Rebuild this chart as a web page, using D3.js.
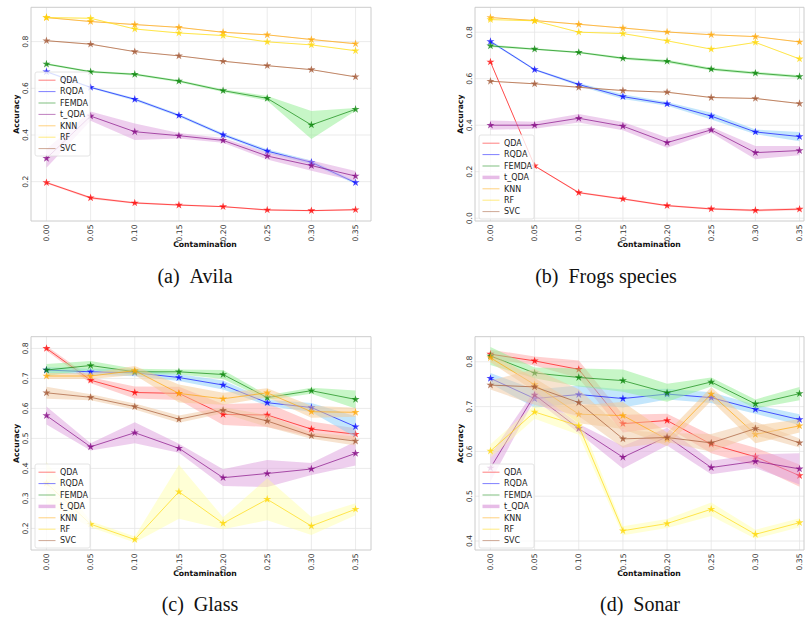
<!DOCTYPE html>
<html>
<head>
<meta charset="utf-8">
<script src="https://cdn.jsdelivr.net/npm/d3@7"></script>
<style>
  body { margin: 0; background: #fff; }
  svg { display: block; }
  text { font-family: 'DejaVu Sans', sans-serif; }
  .caption { font-family: 'Liberation Serif', 'Times New Roman', serif; }
</style>
</head>
<body>
<script>
'use strict'

const contamination = [0.00, 0.05, 0.10, 0.15, 0.20, 0.25, 0.30, 0.35]
const methods = ['QDA', 'RQDA', 'FEMDA', 't_QDA', 'KNN', 'RF', 'SVC']

// means and std, one row per method in the order above
const avilaMeans = [
  [0.196, 0.131, 0.109, 0.100, 0.093, 0.079, 0.076, 0.080],
  [0.671, 0.604, 0.553, 0.484, 0.401, 0.331, 0.283, 0.196],
  [0.704, 0.671, 0.660, 0.631, 0.590, 0.557, 0.443, 0.510],
  [0.300, 0.481, 0.414, 0.397, 0.377, 0.310, 0.269, 0.224],
  [0.903, 0.886, 0.873, 0.861, 0.840, 0.829, 0.809, 0.791],
  [0.903, 0.900, 0.854, 0.837, 0.826, 0.799, 0.786, 0.761],
  [0.804, 0.789, 0.757, 0.739, 0.716, 0.697, 0.680, 0.649]
]
const avilaStds = [
  [0.004, 0.005, 0.004, 0.003, 0.003, 0.003, 0.003, 0.003],
  [0.004, 0.004, 0.006, 0.006, 0.006, 0.008, 0.008, 0.006],
  [0.004, 0.004, 0.005, 0.005, 0.006, 0.010, 0.060, 0.006],
  [0.040, 0.020, 0.035, 0.012, 0.010, 0.015, 0.022, 0.022],
  [0.002, 0.002, 0.002, 0.002, 0.002, 0.002, 0.002, 0.002],
  [0.002, 0.002, 0.002, 0.002, 0.002, 0.002, 0.002, 0.002],
  [0.002, 0.002, 0.002, 0.002, 0.002, 0.002, 0.002, 0.002]
]

const frogsMeans = [
  [0.672, 0.225, 0.110, 0.083, 0.054, 0.040, 0.034, 0.039],
  [0.760, 0.639, 0.575, 0.523, 0.492, 0.439, 0.371, 0.351],
  [0.741, 0.727, 0.713, 0.688, 0.675, 0.641, 0.624, 0.609],
  [0.400, 0.400, 0.430, 0.396, 0.325, 0.380, 0.282, 0.291],
  [0.863, 0.850, 0.834, 0.818, 0.801, 0.789, 0.781, 0.758],
  [0.854, 0.849, 0.800, 0.794, 0.763, 0.727, 0.756, 0.685],
  [0.589, 0.578, 0.563, 0.549, 0.542, 0.519, 0.515, 0.493]
]
const frogsStds = [
  [0.003, 0.003, 0.004, 0.004, 0.004, 0.004, 0.005, 0.005],
  [0.005, 0.004, 0.006, 0.010, 0.008, 0.015, 0.010, 0.020],
  [0.005, 0.004, 0.004, 0.005, 0.006, 0.006, 0.006, 0.006],
  [0.020, 0.015, 0.018, 0.018, 0.022, 0.012, 0.028, 0.020],
  [0.002, 0.002, 0.002, 0.002, 0.002, 0.002, 0.002, 0.002],
  [0.002, 0.002, 0.002, 0.002, 0.002, 0.002, 0.002, 0.002],
  [0.002, 0.002, 0.002, 0.002, 0.002, 0.002, 0.002, 0.002]
]

const glassMeans = [
  [0.800, 0.694, 0.653, 0.650, 0.580, 0.578, 0.531, 0.514],
  [0.728, 0.722, 0.719, 0.703, 0.678, 0.619, 0.603, 0.539],
  [0.728, 0.743, 0.722, 0.722, 0.713, 0.636, 0.659, 0.630],
  [0.576, 0.472, 0.519, 0.467, 0.369, 0.383, 0.398, 0.450],
  [0.708, 0.708, 0.726, 0.650, 0.632, 0.652, 0.589, 0.587],
  [0.351, 0.214, 0.163, 0.322, 0.217, 0.297, 0.208, 0.264],
  [0.652, 0.637, 0.606, 0.564, 0.594, 0.558, 0.509, 0.491]
]
const glassStds = [
  [0.008, 0.010, 0.020, 0.022, 0.035, 0.040, 0.025, 0.020],
  [0.010, 0.010, 0.012, 0.012, 0.015, 0.010, 0.015, 0.035],
  [0.020, 0.015, 0.010, 0.008, 0.015, 0.008, 0.010, 0.030],
  [0.030, 0.012, 0.035, 0.015, 0.028, 0.045, 0.020, 0.040],
  [0.010, 0.010, 0.015, 0.030, 0.020, 0.015, 0.020, 0.015],
  [0.070, 0.010, 0.010, 0.090, 0.020, 0.070, 0.030, 0.020],
  [0.020, 0.010, 0.010, 0.012, 0.010, 0.020, 0.010, 0.015]
]

const sonarMeans = [
  [0.817, 0.802, 0.783, 0.662, 0.669, 0.616, 0.588, 0.546],
  [0.763, 0.718, 0.727, 0.718, 0.728, 0.720, 0.694, 0.671],
  [0.813, 0.775, 0.765, 0.758, 0.731, 0.755, 0.706, 0.729],
  [0.563, 0.726, 0.651, 0.587, 0.633, 0.564, 0.578, 0.561],
  [0.809, 0.749, 0.683, 0.680, 0.627, 0.728, 0.638, 0.657],
  [0.601, 0.688, 0.657, 0.423, 0.439, 0.471, 0.415, 0.441],
  [0.748, 0.744, 0.709, 0.628, 0.631, 0.619, 0.651, 0.619]
]
const sonarStds = [
  [0.010, 0.010, 0.020, 0.020, 0.015, 0.020, 0.020, 0.025],
  [0.012, 0.020, 0.020, 0.020, 0.012, 0.012, 0.010, 0.012],
  [0.020, 0.012, 0.020, 0.025, 0.020, 0.010, 0.010, 0.015],
  [0.030, 0.010, 0.010, 0.025, 0.020, 0.015, 0.015, 0.035],
  [0.010, 0.015, 0.020, 0.030, 0.015, 0.015, 0.020, 0.015],
  [0.015, 0.015, 0.020, 0.010, 0.010, 0.015, 0.010, 0.010],
  [0.010, 0.040, 0.030, 0.020, 0.010, 0.020, 0.015, 0.010]
]

const avilaTicks = [0.2, 0.4, 0.6, 0.8]
const frogsTicks = [0.0, 0.2, 0.4, 0.6, 0.8]
const glassTicks = [0.2, 0.3, 0.4, 0.5, 0.6, 0.7, 0.8]
const sonarTicks = [0.4, 0.5, 0.6, 0.7, 0.8]

const lineColor = ['#ff0000', '#0000ff', '#008000', '#800080', '#ffa500', '#ffd700', '#a0522d']
const bandColor = ['#ff9a9a', '#87cefa', '#90ee90', '#dda0dd', '#f5c890', '#ffff99', '#f0c8a0']
const bandAlpha = [0.45, 0.5, 0.5, 0.5, 0.5, 0.4, 0.5]

const W = 805
const H = 620

const svg = d3.select('body').append('svg')
  .attr('width', W)
  .attr('height', H)

svg.append('rect').attr('width', W).attr('height', H).attr('fill', '#fff')

const panels = [
  { id: 'a', means: avilaMeans, stds: avilaStds, ticks: avilaTicks, yDom: [0.0316, 0.947],
    left: 31, top: 7.3, bottom: 221, legX: 35, legY: 72, thickT: false,
    caption: '(a)\u2002Avila', capX: 195, capY: 283 },
  { id: 'b', means: frogsMeans, stds: frogsStds, ticks: frogsTicks, yDom: [-0.012, 0.907],
    left: 475, top: 7.3, bottom: 221, legX: 479, legY: 135, thickT: true,
    caption: '(b)\u2002Frogs species', capX: 606, capY: 283 },
  { id: 'c', means: glassMeans, stds: glassStds, ticks: glassTicks, yDom: [0.128, 0.839],
    left: 31, top: 336.7, bottom: 550, legX: 35, legY: 464, thickT: true,
    caption: '(c)\u2002Glass', capX: 200, capY: 611 },
  { id: 'd', means: sonarMeans, stds: sonarStds, ticks: sonarTicks, yDom: [0.38, 0.856],
    left: 475, top: 336.7, bottom: 550, legX: 479, legY: 464, thickT: true,
    caption: '(d)\u2002Sonar', capX: 640, capY: 611 }
]

panels.forEach(drawPanel)

function drawPanel (p) {
  const right = p.left + 340
  const frameRight = Math.min(right, W - 1)
  const x = d3.scaleLinear().domain([-0.0175, 0.3675]).range([p.left, right])
  const y = d3.scaleLinear().domain(p.yDom).range([p.bottom, p.top])

  const g = svg.append('g')

  g.append('clipPath').attr('id', 'clip-' + p.id)
    .append('rect')
    .attr('x', p.left).attr('y', p.top)
    .attr('width', frameRight - p.left).attr('height', p.bottom - p.top)

  // grid
  g.append('g').selectAll('line')
    .data(contamination)
    .join('line')
    .attr('x1', d => x(d)).attr('x2', d => x(d))
    .attr('y1', p.top).attr('y2', p.bottom)
    .attr('stroke', '#e6e6e6').attr('stroke-width', 0.8)
  g.append('g').selectAll('line')
    .data(p.ticks)
    .join('line')
    .attr('x1', p.left).attr('x2', frameRight)
    .attr('y1', d => y(d)).attr('y2', d => y(d))
    .attr('stroke', '#e6e6e6').attr('stroke-width', 0.8)

  const plot = g.append('g').attr('clip-path', 'url(#clip-' + p.id + ')')

  const area = d3.area()
    .x((d, i) => x(contamination[i]))
    .y0(d => y(d[0] - d[1]))
    .y1(d => y(d[0] + d[1]))
  const line = d3.line()
    .x((d, i) => x(contamination[i]))
    .y(d => y(d))
  const star = d3.symbol(d3.symbolStar).size(20)

  methods.forEach(function (m, k) {
    const band = p.means[k].map((v, i) => [v, p.stds[k][i]])
    plot.append('path')
      .attr('d', area(band))
      .attr('fill', bandColor[k])
      .attr('fill-opacity', bandAlpha[k])
    plot.append('path')
      .attr('d', line(p.means[k]))
      .attr('fill', 'none')
      .attr('stroke', lineColor[k])
      .attr('stroke-opacity', 0.65)
      .attr('stroke-width', 1)
    plot.append('g').selectAll('path')
      .data(p.means[k])
      .join('path')
      .attr('d', star)
      .attr('transform', (d, i) => 'translate(' + x(contamination[i]) + ',' + y(d) + ')')
      .attr('fill', lineColor[k])
      .attr('fill-opacity', 0.75)
  })

  // frame
  g.append('path')
    .attr('d', 'M' + frameRight + ',' + p.top + 'H' + p.left + 'V' + p.bottom + 'H' + frameRight + 'V' + p.top)
    .attr('fill', 'none')
    .attr('stroke', '#cccccc')
    .attr('stroke-width', 1)

  // tick labels
  g.append('g').selectAll('text')
    .data(contamination)
    .join('text')
    .attr('transform', d => 'translate(' + x(d) + ',' + (p.bottom + 3.5) + ') rotate(-90)')
    .attr('dy', '0.35em')
    .attr('text-anchor', 'end')
    .attr('font-size', 7.6)
    .attr('fill', '#333')
    .text(d => d3.format('.2f')(d))
  g.append('g').selectAll('text')
    .data(p.ticks)
    .join('text')
    .attr('transform', d => 'translate(' + (p.left - 2.8) + ',' + y(d) + ') rotate(-90)')
    .attr('text-anchor', 'middle')
    .attr('font-size', 7.6)
    .attr('fill', '#333')
    .text(d => d3.format('.1f')(d))

  g.append('text')
    .attr('x', (p.left + right) / 2 + 4)
    .attr('y', p.bottom + 26)
    .attr('text-anchor', 'middle')
    .attr('font-size', 7.7)
    .attr('font-weight', 'bold')
    .attr('fill', '#111')
    .text('Contamination')
  g.append('text')
    .attr('transform', 'translate(' + (p.left - 12) + ',' + ((p.top + p.bottom) / 2) + ') rotate(-90)')
    .attr('text-anchor', 'middle')
    .attr('font-size', 7.7)
    .attr('font-weight', 'bold')
    .attr('fill', '#111')
    .text('Accuracy')

  // legend
  const leg = g.append('g').attr('transform', 'translate(' + p.legX + ',' + p.legY + ')')
  leg.append('rect')
    .attr('width', 55).attr('height', 84).attr('rx', 2)
    .attr('fill', '#fff').attr('fill-opacity', 0.8)
    .attr('stroke', '#dddddd').attr('stroke-width', 0.8)
  methods.forEach(function (m, k) {
    const ly = 8.2 + k * 11.4
    const thick = p.thickT && m === 't_QDA'
    leg.append('line')
      .attr('x1', 3.5).attr('x2', 20.5)
      .attr('y1', ly).attr('y2', ly)
      .attr('stroke', thick ? bandColor[k] : lineColor[k])
      .attr('stroke-opacity', thick ? 0.7 : 0.5)
      .attr('stroke-width', thick ? 3.5 : 1)
    leg.append('text')
      .attr('x', 25).attr('y', ly)
      .attr('dy', '0.35em')
      .attr('font-size', 8)
      .attr('fill', '#222')
      .text(m)
  })

  svg.append('text')
    .attr('class', 'caption')
    .attr('x', p.capX).attr('y', p.capY)
    .attr('text-anchor', 'middle')
    .attr('font-size', 20)
    .attr('fill', '#111')
    .text(p.caption)
}
</script>
</body>
</html>
